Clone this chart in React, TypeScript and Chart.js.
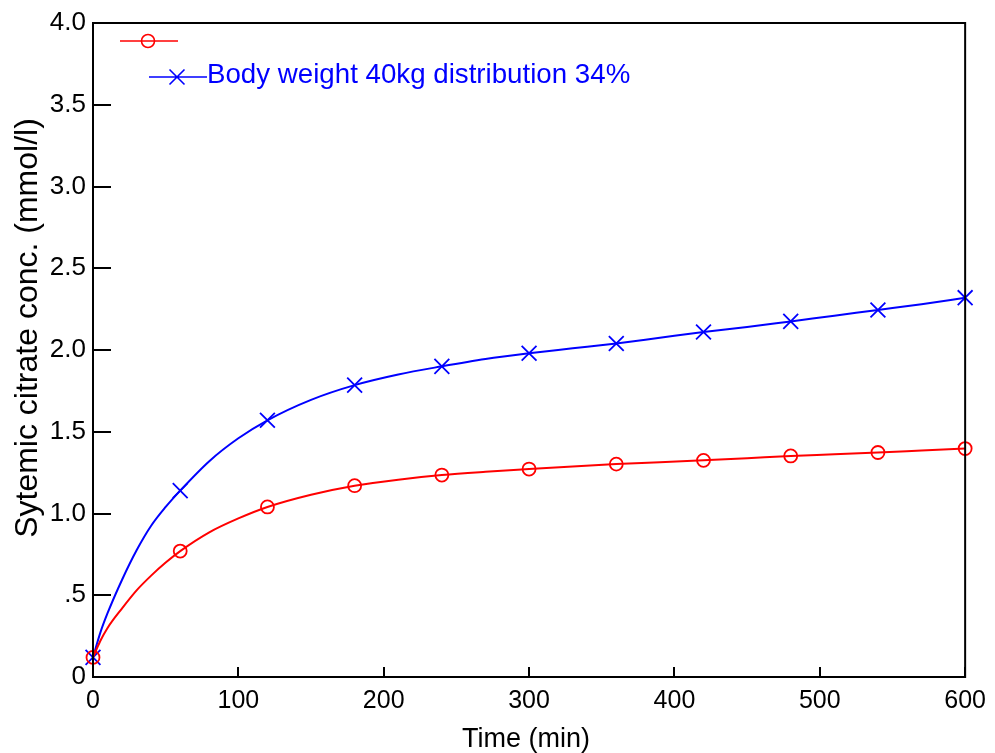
import React, { useEffect, useRef } from "react";
import { Chart, registerables } from "chart.js";

Chart.register(...registerables);

const redTimes = [0, 5, 10, 20, 30, 40, 50, 60, 80, 100, 120, 150, 180, 210, 240, 270, 300, 330, 360, 390, 420, 450, 480, 510, 540, 570, 600];
const redValues = [0.12, 0.22, 0.30, 0.42, 0.53, 0.62, 0.70, 0.77, 0.885, 0.97, 1.04, 1.115, 1.17, 1.207, 1.235, 1.255, 1.272, 1.288, 1.302, 1.313, 1.325, 1.338, 1.352, 1.362, 1.373, 1.385, 1.397];

const blueTimes = [0, 5, 10, 20, 30, 40, 50, 60, 80, 100, 120, 150, 180, 210, 240, 270, 300, 330, 360, 390, 420, 450, 480, 510, 540, 570, 600];
const blueValues = [0.12, 0.27, 0.39, 0.595, 0.775, 0.925, 1.04, 1.14, 1.32, 1.46, 1.57, 1.695, 1.785, 1.85, 1.90, 1.945, 1.98, 2.01, 2.04, 2.075, 2.11, 2.14, 2.175, 2.21, 2.245, 2.28, 2.32];

const xTicks = [0, 100, 200, 300, 400, 500, 600];
const yTicks = [0, 0.5, 1.0, 1.5, 2.0, 2.5, 3.0, 3.5, 4.0];

const legendLabels = ["", "Body weight 40kg distribution 34%"];
const xTitle = "Time (min)";
const yTitle = "Sytemic citrate conc. (mmol/l)";

const RED = "#ff0000";
const BLUE = "#0000ff";
const FONT = "Arial, 'Liberation Sans', sans-serif";

const markerRadius = (ctx: any) => (ctx.raw && ctx.raw.x % 60 === 0 ? 6.5 : 0);
const crossRadius = (ctx: any) => (ctx.raw && ctx.raw.x % 60 === 0 ? 10.5 : 0);

const framePlugin = {
  id: "framePlugin",
  afterDatasetsDraw(chart: any) {
    const { ctx, chartArea, scales } = chart;
    const { left, right, top, bottom } = chartArea;
    ctx.save();
    ctx.strokeStyle = "#000";
    ctx.lineWidth = 2;
    ctx.strokeRect(left, top, right - left, bottom - top);
    ctx.beginPath();
    yTicks.forEach((v) => {
      const y = Math.round(scales.y.getPixelForValue(v));
      ctx.moveTo(left, y);
      ctx.lineTo(left + 18, y);
    });
    xTicks.forEach((v) => {
      const x = Math.round(scales.x.getPixelForValue(v));
      ctx.moveTo(x, bottom);
      ctx.lineTo(x, bottom - 10);
    });
    ctx.stroke();

    // legend
    ctx.lineWidth = 1.6;
    ctx.strokeStyle = RED;
    ctx.beginPath();
    ctx.moveTo(120, 41);
    ctx.lineTo(178, 41);
    ctx.stroke();
    ctx.beginPath();
    ctx.arc(148, 41, 6.5, 0, Math.PI * 2);
    ctx.stroke();

    ctx.strokeStyle = BLUE;
    ctx.beginPath();
    ctx.moveTo(149, 77);
    ctx.lineTo(207, 77);
    ctx.moveTo(177 - 7.5, 77 - 7.5);
    ctx.lineTo(177 + 7.5, 77 + 7.5);
    ctx.moveTo(177 - 7.5, 77 + 7.5);
    ctx.lineTo(177 + 7.5, 77 - 7.5);
    ctx.stroke();

    ctx.fillStyle = BLUE;
    ctx.font = `27.7px ${FONT}`;
    ctx.textBaseline = "alphabetic";
    ctx.textAlign = "left";
    ctx.fillText(legendLabels[1], 207, 83);
    if (legendLabels[0]) ctx.fillText(legendLabels[0], 180, 48);

    // axis titles
    ctx.fillStyle = "#000";
    ctx.font = `27px ${FONT}`;
    ctx.textAlign = "center";
    ctx.fillText(xTitle, 526, 747);

    ctx.save();
    ctx.translate(37, 328);
    ctx.rotate(-Math.PI / 2);
    ctx.font = `32px ${FONT}`;
    ctx.textAlign = "center";
    ctx.textBaseline = "alphabetic";
    ctx.fillText(yTitle, 0, 0);
    ctx.restore();

    ctx.restore();
  },
};

export default function App() {
  const canvasRef = useRef<HTMLCanvasElement | null>(null);

  useEffect(() => {
    const prevMargin = document.body.style.margin;
    document.body.style.margin = "0";
    const canvas = canvasRef.current!;
    const chart = new Chart(canvas, {
      type: "line",
      data: {
        datasets: [
          {
            label: legendLabels[0],
            data: redTimes.map((t, i) => ({ x: t, y: redValues[i] })),
            borderColor: RED,
            backgroundColor: "rgba(0,0,0,0)",
            borderWidth: 2,
            pointStyle: "circle",
            pointRadius: markerRadius,
            pointBorderColor: RED,
            pointBackgroundColor: "rgba(0,0,0,0)",
            pointBorderWidth: 1.8,
            cubicInterpolationMode: "monotone",
          },
          {
            label: legendLabels[1],
            data: blueTimes.map((t, i) => ({ x: t, y: blueValues[i] })),
            borderColor: BLUE,
            backgroundColor: "rgba(0,0,0,0)",
            borderWidth: 2,
            pointStyle: "crossRot",
            pointRadius: crossRadius,
            pointBorderColor: BLUE,
            pointBorderWidth: 1.8,
            cubicInterpolationMode: "monotone",
          },
        ],
      },
      options: {
        animation: false,
        responsive: false,
        clip: false,
        layout: { padding: { top: 23, right: 29, left: 0, bottom: 0 } },
        plugins: { legend: { display: false }, tooltip: { enabled: false } },
        scales: {
          x: {
            type: "linear",
            min: 0,
            max: 600,
            afterFit: (s: any) => { s.height = 76; },
            afterBuildTicks: (s: any) => { s.ticks = xTicks.map((v) => ({ value: v })); },
            grid: { display: false, drawTicks: false },
            border: { display: false },
            ticks: { color: "#000", font: { size: 25, family: FONT }, padding: 9, maxRotation: 0 },
            title: { display: false },
          },
          y: {
            type: "linear",
            min: 0,
            max: 4,
            afterFit: (s: any) => { s.width = 93; },
            afterBuildTicks: (s: any) => { s.ticks = yTicks.map((v) => ({ value: v })); },
            grid: { display: false, drawTicks: false },
            border: { display: false },
            ticks: {
              color: "#000",
              font: { size: 26, family: FONT },
              padding: 7,
              callback: (v: any) => (v === 0 ? "0" : v === 0.5 ? ".5" : Number(v).toFixed(1)),
            },
            title: { display: false },
          },
        },
      },
      plugins: [framePlugin],
    } as any);
    return () => {
      chart.destroy();
      document.body.style.margin = prevMargin;
    };
  }, []);

  return (
    <div style={{ position: "absolute", left: 0, top: 0, width: 995, height: 753, background: "#fff" }}>
      <canvas ref={canvasRef} width={995} height={753} style={{ display: "block", width: 995, height: 753 }} />
    </div>
  );
}
